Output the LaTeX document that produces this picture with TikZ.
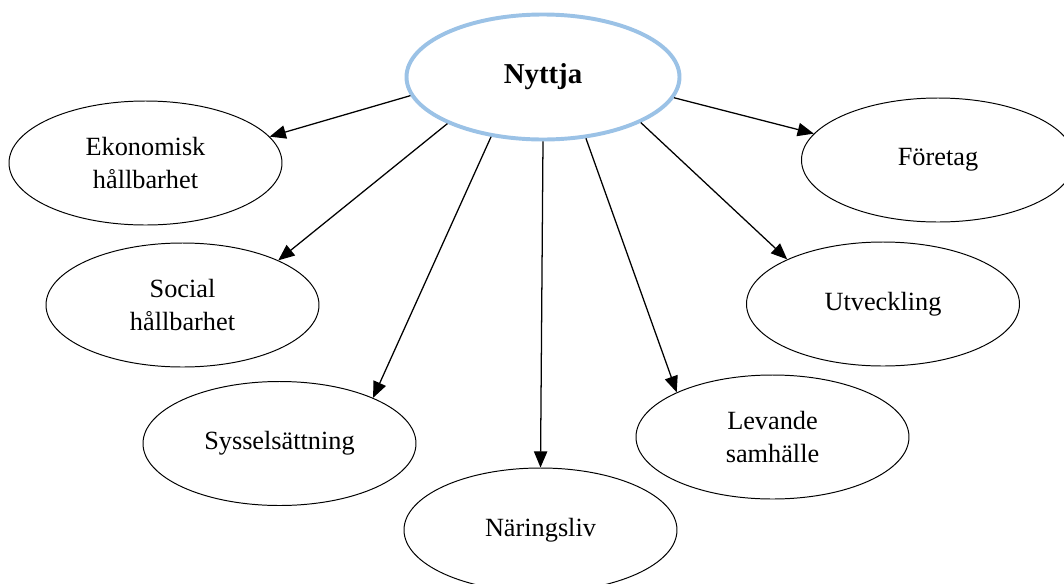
\documentclass[tikz,border=0pt]{standalone}
\usepackage{fontspec}
\setmainfont{Liberation Serif}
\usepackage{xcolor}
\usepackage{tikz}
\usetikzlibrary{arrows.meta,shapes.geometric}

\definecolor{hubblue}{RGB}{155,194,230}

\begin{document}
\begin{tikzpicture}[>={Triangle[length=11.5pt, width=9.5pt]},
  leaf/.style={draw, ellipse, line width=0.7pt, minimum width=6.825cm, minimum height=3.1cm,
    inner sep=0pt, align=center, font=\fontsize{18.7}{22.8}\selectfont},
  hub/.style={leaf, draw=hubblue, line width=2.8pt, minimum height=3.125cm,
    font=\fontsize{20.5}{24}\selectfont\bfseries},
  link/.style={->, line width=0.9pt}]
\useasboundingbox (0,0) rectangle (26.6,-14.6);
% --- centre ---
\node[hub] (nyttja) at (13.575,-1.925) {Nyttja};
% --- left side ---
\node[leaf] (eko)  at (3.6375,-4.075)  {Ekonomisk\\hållbarhet};
\node[leaf] (soc)  at (4.5625,-7.625)  {Social\\hållbarhet};
\node[leaf] (syss) at (6.9875,-11.0875) {Sysselsättning};
% --- bottom and right side ---
\node[leaf] (nar)  at (13.5125,-13.25) {Näringsliv};
\node[leaf] (lev)  at (19.3125,-10.925) {Levande\\samhälle};
\node[leaf] (utv)  at (22.075,-7.6)    {Utveckling};
\node[leaf] (for)  at (23.45,-4.0)     {Företag};
% --- arrows out of the centre ---
\foreach \s/\t in {188/eko.12, 206/soc.25, 229/syss.26, 270/nar.90,
                   305.5/lev.155, 335/utv.155, 351/for.168} {
  \draw[link] (nyttja.\s) -- (\t); }
\end{tikzpicture}
\end{document}
